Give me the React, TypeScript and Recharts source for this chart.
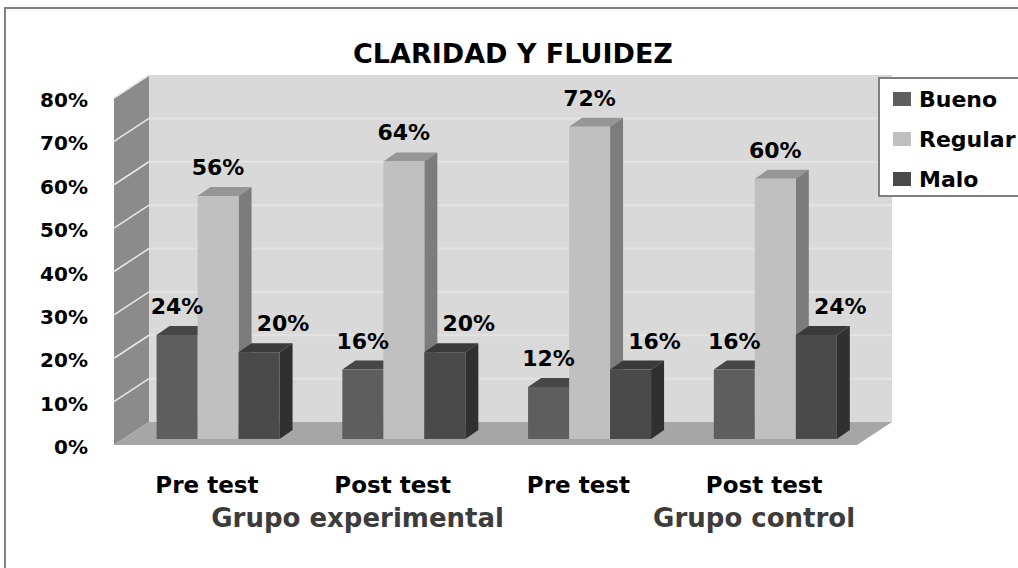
import React from 'react';
import { BarChart, Bar, XAxis, YAxis, Legend, ReferenceArea, LabelList } from 'recharts';

const categories = ['Pre test', 'Post test', 'Pre test', 'Post test'];
const groupLabels = ['', 'Grupo experimental', '', 'Grupo control'];
const bueno = [24, 16, 12, 16];
const regular = [56, 64, 72, 60];
const malo = [20, 20, 16, 24];
const yTicks = [0, 10, 20, 30, 40, 50, 60, 70, 80];

const data = categories.map((c, i) => ({
  idx: i,
  name: c,
  Bueno: bueno[i],
  Regular: regular[i],
  Malo: malo[i],
}));

// fake 3d: the plot rect is the middle plane, walls are pushed back, axis labels sit on the front plane
const FRONT = { dx: -11, dy: 6 };
const BACK = { dx: 24, dy: -17 };
const BAR_DEPTH = { dx: 13, dy: 9 };

const FONT = '"DejaVu Sans", Verdana, sans-serif';

const series = [
  { key: 'Bueno', front: '#5e5e5e', top: '#474747', side: '#3e3e3e', labelDx: 0 },
  { key: 'Regular', front: '#c0c0c0', top: '#969696', side: '#7c7c7c', labelDx: 0 },
  { key: 'Malo', front: '#4a4a4a', top: '#3a3a3a', side: '#303030', labelDx: 24 },
];

const GROUP_LABEL_DX: Record<string, number> = {
  'Grupo experimental': -35,
  'Grupo control': -10,
};

const Walls = (props: any) => {
  const { x, y, width, height } = props;
  const bottom = y + height;
  const maxTick = yTicks[yTicks.length - 1];
  const tickY = yTicks.map((t) => bottom - (height * t) / maxTick);
  const fx = x + FRONT.dx;
  const bx = x + BACK.dx;
  return (
    <g>
      {/* back wall */}
      <rect x={bx} y={y + BACK.dy} width={width} height={height} fill="#d9d9d9" />
      {tickY.slice(1, -1).map((ty, i) => (
        <line key={'b' + i} x1={bx} x2={bx + width} y1={ty + BACK.dy} y2={ty + BACK.dy} stroke="#e3e3e3" strokeWidth={2} />
      ))}
      {/* left wall */}
      <polygon
        points={`${fx},${bottom + FRONT.dy} ${fx},${y + FRONT.dy} ${bx},${y + BACK.dy} ${bx},${bottom + BACK.dy}`}
        fill="#8b8b8b"
      />
      {tickY.slice(1, -1).map((ty, i) => (
        <line key={'l' + i} x1={fx} x2={bx} y1={ty + FRONT.dy} y2={ty + BACK.dy} stroke="#e8e8e8" strokeWidth={1.5} />
      ))}
      <line x1={fx} x2={bx} y1={y + FRONT.dy} y2={y + BACK.dy} stroke="#e8e8e8" strokeWidth={1.5} />
      {/* floor */}
      <polygon
        points={`${fx},${bottom + FRONT.dy} ${fx + width},${bottom + FRONT.dy} ${bx + width},${bottom + BACK.dy} ${bx},${bottom + BACK.dy}`}
        fill="#a6a6a6"
      />
    </g>
  );
};

const makeBar = (s: typeof series[number]) => (props: any) => {
  const { x, y, width, height } = props;
  if (!height) return <g />;
  const d = BAR_DEPTH;
  return (
    <g>
      <polygon
        points={`${x},${y} ${x + d.dx},${y - d.dy} ${x + width + d.dx},${y - d.dy} ${x + width},${y}`}
        fill={s.top}
      />
      <polygon
        points={`${x + width},${y} ${x + width + d.dx},${y - d.dy} ${x + width + d.dx},${y + height - d.dy} ${x + width},${y + height}`}
        fill={s.side}
      />
      <rect x={x} y={y} width={width} height={height} fill={s.front} />
    </g>
  );
};

const makeLabel = (s: typeof series[number]) => (props: any) => {
  const { x, y, width, value } = props;
  return (
    <text
      x={x + width / 2 + s.labelDx}
      y={y - 21}
      textAnchor="middle"
      fontFamily={FONT}
      fontWeight="bold"
      fontSize={22}
      fill="#000"
    >
      {value}%
    </text>
  );
};

const YTick = (props: any) => {
  const { x, y, payload } = props;
  return (
    <text x={x} y={y + FRONT.dy + 2} dy={7} textAnchor="end" fontFamily={FONT} fontWeight="bold" fontSize={20} fill="#000">
      {payload.value}%
    </text>
  );
};

const XTick = (props: any) => {
  const { x, y, payload } = props;
  const i = payload.value;
  const group = groupLabels[i];
  return (
    <g>
      <text x={x + FRONT.dx} y={y} dy={54} textAnchor="middle" fontFamily={FONT} fontWeight="bold" fontSize={23} fill="#000">
        {categories[i]}
      </text>
      {group && (
        <text
          x={x + FRONT.dx + (GROUP_LABEL_DX[group] || 0)}
          y={y}
          dy={88}
          textAnchor="middle"
          fontFamily={FONT}
          fontWeight="bold"
          fontSize={26}
          fill="#3c3c3c"
        >
          {group}
        </text>
      )}
    </g>
  );
};

const LegendBox = (props: any) => {
  const payload = props.payload || [];
  // keep the series order (Bueno, Regular, Malo) instead of the alphabetical one
  const items = series
    .map((s) => payload.find((p: any) => p.dataKey === s.key || p.value === s.key))
    .filter(Boolean);
  return (
    <div
      style={{
        width: 150,
        height: 120,
        boxSizing: 'border-box',
        border: '2px solid #7f7f7f',
        background: '#fff',
        position: 'relative',
        fontFamily: FONT,
        fontWeight: 'bold',
        fontSize: 22,
        color: '#000',
      }}
    >
      {items.map((p: any, i: number) => (
        <div key={p.value} style={{ position: 'absolute', left: 13, top: 7 + i * 40, height: 26, display: 'flex', alignItems: 'center', whiteSpace: 'nowrap' }}>
          <span style={{ display: 'inline-block', width: 18, height: 14, background: p.color, marginRight: 8 }} />
          <span>{p.value}</span>
        </div>
      ))}
    </div>
  );
};

const App: React.FC = () => {
  return (
    <div style={{ position: 'absolute', left: 0, top: 0, width: 1018, height: 568, overflow: 'hidden', background: '#fff' }}>
      <div
        style={{
          position: 'absolute',
          left: 4,
          top: 7,
          width: 1012,
          height: 620,
          borderLeft: '2px solid #808080',
          borderTop: '2px solid #808080',
          borderRight: '1px solid #c8c8c8',
        }}
      />
      <div
        style={{
          position: 'absolute',
          left: 313,
          top: 40,
          width: 400,
          textAlign: 'center',
          fontFamily: FONT,
          fontWeight: 'bold',
          fontSize: 27,
          lineHeight: '27px',
          whiteSpace: 'nowrap',
          color: '#000',
        }}
      >
        CLARIDAD Y FLUIDEZ
      </div>
      <div style={{ position: 'absolute', left: 0, top: 0 }}>
        <BarChart
          width={1018}
          height={568}
          data={data}
          margin={{ top: 92, right: 150, bottom: 39, left: 45 }}
          barCategoryGap="17%"
          barGap={0}
        >
          <ReferenceArea y1={0} y2={80} shape={Walls} ifOverflow="visible" />
          <XAxis dataKey="idx" height={90} tickSize={0} tickMargin={0} axisLine={false} tickLine={false} tick={XTick} interval={0} />
          <YAxis
            type="number"
            domain={[0, 80]}
            ticks={yTicks}
            width={80}
            tickSize={0}
            tickMargin={37}
            axisLine={false}
            tickLine={false}
            tick={YTick}
            interval={0}
          />
          <Legend
            layout="vertical"
            align="center"
            verticalAlign="middle"
            wrapperStyle={{ position: 'absolute', left: 878, top: 77, width: 150 }}
            content={LegendBox}
          />
          {series.map((s) => (
            <Bar key={s.key} dataKey={s.key} fill={s.front} shape={makeBar(s)} isAnimationActive={false}>
              <LabelList dataKey={s.key} content={makeLabel(s)} />
            </Bar>
          ))}
        </BarChart>
      </div>
    </div>
  );
};

export default App;
